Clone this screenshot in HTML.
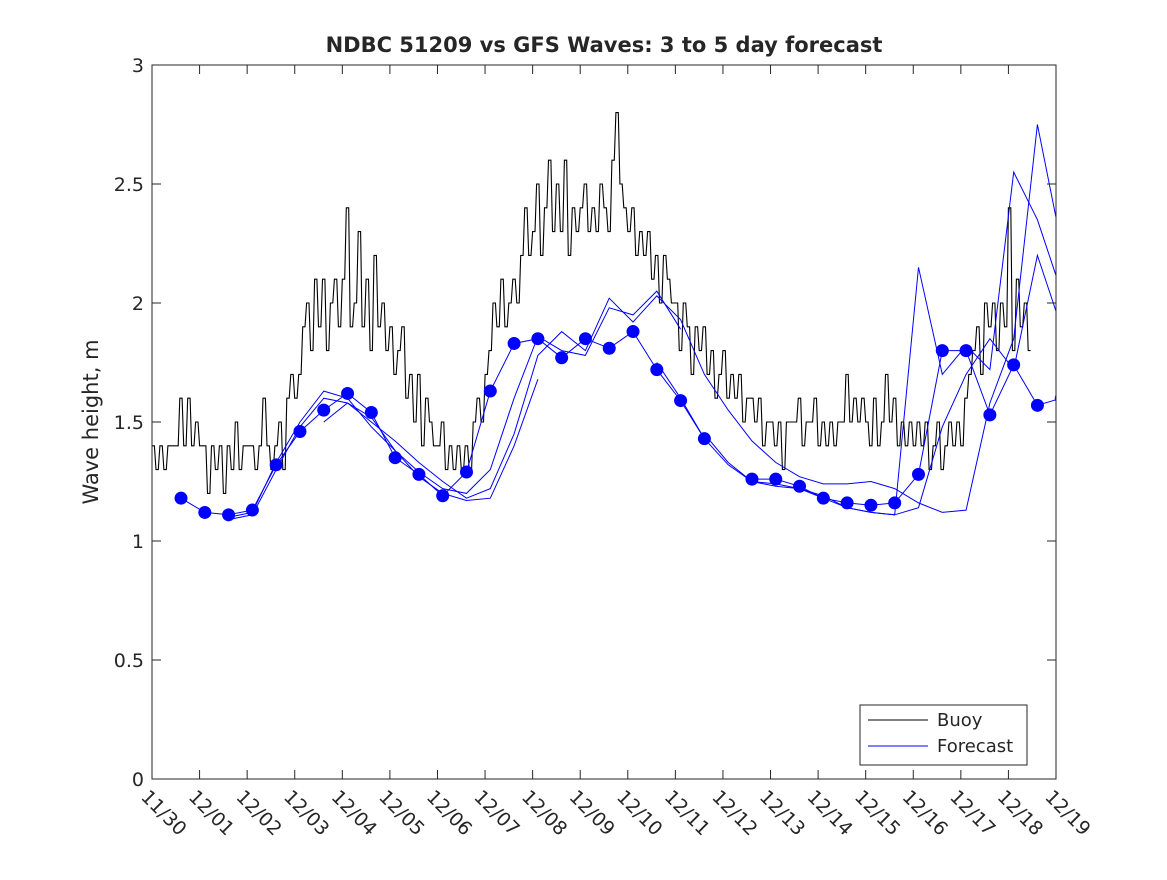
<!DOCTYPE html>
<html><head><meta charset="utf-8"><style>
body{margin:0;background:#fff}
svg text{font-family:"DejaVu Sans","Liberation Sans",sans-serif;fill:#262626}
</style></head><body>
<svg id="chart" width="1167" height="875" viewBox="0 0 1167 875">
<rect width="1167" height="875" fill="#fff"/>
<text x="604" y="52" text-anchor="middle" font-size="21" font-weight="bold" fill="#000">NDBC 51209 vs GFS Waves: 3 to 5 day forecast</text>
<text transform="translate(98,422) rotate(-90)" text-anchor="middle" font-size="21">Wave height, m</text>
<g id="marks"></g>
<rect x="152" y="65" width="904" height="714" fill="none" stroke="#262626" stroke-width="1"/>
<g id="axes"></g>
<g>
<rect x="860" y="705" width="167" height="60" fill="#fff" stroke="#262626"/>
<line x1="868" y1="720" x2="928" y2="720" stroke="#000"/>
<text x="937" y="726" font-size="18">Buoy</text>
<line x1="868" y1="746" x2="928" y2="746" stroke="#00f"/>
<text x="937" y="752" font-size="18">Forecast</text>
</g>
</svg>
<script>
const xTickLabels=["11/30","12/01","12/02","12/03","12/04","12/05","12/06","12/07","12/08","12/09","12/10","12/11","12/12","12/13","12/14","12/15","12/16","12/17","12/18","12/19"];
const yTicks=[0,0.5,1,1.5,2,2.5,3];
const yTickLabels=["0","0.5","1","1.5","2","2.5","3"];
const buoyStep=1/12;
const buoy=[
1.4,1.3,1.4,1.3,1.4,1.4,1.4,1.6,1.4,1.6,1.4,1.5,
1.4,1.4,1.2,1.4,1.3,1.4,1.2,1.4,1.3,1.5,1.3,1.4,
1.4,1.4,1.3,1.4,1.6,1.4,1.3,1.4,1.5,1.3,1.6,1.7,
1.6,1.7,1.9,2.0,1.8,2.1,1.9,2.1,1.8,2.0,2.1,1.9,
2.1,2.4,1.9,2.0,2.3,1.9,2.1,1.8,2.2,1.9,2.0,1.8,
1.9,1.7,1.8,1.9,1.6,1.7,1.5,1.7,1.4,1.6,1.5,1.4,
1.4,1.5,1.3,1.4,1.3,1.4,1.3,1.4,1.3,1.5,1.6,1.5,
1.7,1.8,2.0,1.9,2.1,1.9,2.0,2.1,2.0,2.2,2.4,2.2,
2.3,2.5,2.2,2.4,2.6,2.3,2.5,2.3,2.6,2.2,2.4,2.3,
2.4,2.5,2.3,2.4,2.3,2.5,2.4,2.3,2.6,2.8,2.5,2.4,
2.3,2.4,2.2,2.3,2.2,2.3,2.1,2.2,2.0,2.2,2.1,2.0,
2.0,1.8,2.0,1.9,1.7,1.9,1.8,1.9,1.7,1.8,1.6,1.7,
1.8,1.6,1.7,1.6,1.7,1.5,1.6,1.6,1.5,1.6,1.4,1.5,
1.5,1.4,1.5,1.3,1.5,1.5,1.5,1.6,1.4,1.5,1.5,1.6,
1.4,1.5,1.4,1.5,1.4,1.5,1.5,1.7,1.5,1.6,1.5,1.6,
1.5,1.4,1.6,1.4,1.5,1.7,1.5,1.6,1.4,1.5,1.4,1.5,
1.4,1.5,1.4,1.5,1.3,1.4,1.5,1.3,1.4,1.5,1.4,1.5,
1.4,1.6,1.7,1.8,1.9,1.7,2.0,1.9,2.0,1.8,2.0,1.9,
2.4,1.8,2.1,1.9,2.0,1.8];
const fcStart=0.61, fcStep=0.5;
const dots=[1.18,1.12,1.11,1.13,1.32,1.46,1.55,1.62,1.54,1.35,1.28,1.19,1.29,1.63,1.83,1.85,1.77,1.85,1.81,1.88,1.72,1.59,1.43,null,1.26,1.26,1.23,1.18,1.16,1.15,1.16,1.28,1.80,1.80,1.53,1.74,1.57,1.60];
const curveBStart=2;
const curveB=[1.10,1.12,1.33,1.50,1.63,1.60,1.48,1.38,1.29,1.22,1.20,1.30,1.60,1.86,1.80,1.78,1.98,1.95,2.05,1.89];
const curveCStart=2;
const curveC=[1.09,1.11,1.30,1.48,1.60,1.58,1.50,1.42,1.33,1.25,1.18,1.22,1.45,1.78,1.88,1.80,2.02,1.92,2.03,1.93,1.70,1.55,1.42,1.33,1.27,1.24,1.24,1.25,1.22,1.16,1.12,1.13,1.58,1.85,2.75,2.25];
const curveDStart=20;
const curveD=[1.75,1.60,1.43,1.32,1.25,1.24,1.22,1.19,1.14,1.12,1.11,2.15,1.70,1.82,1.72,2.55,2.35,2.05];
const curveEStart=6;
const curveE=[1.50,1.58,1.52,1.38,1.27,1.20,1.17,1.18,1.40,1.68];
const curveFStart=22;
const curveF=[1.45,1.33,1.25,1.23,1.22,1.18,1.14,1.12,1.11,1.14,1.48,1.70,1.85,1.72,2.20,1.90];

const X0=152,X1=1056,Y0=779,Y1=65,NDAYS=19,YMAX=3;
const xs=d=>X0+(X1-X0)*d/NDAYS;
const ys=v=>Y0-(Y0-Y1)*v/YMAX;
const NS="http://www.w3.org/2000/svg";
const marks=document.getElementById('marks'), axes=document.getElementById('axes');
function mk(tag,attrs,parent){const e=document.createElementNS(NS,tag);for(const k in attrs)e.setAttribute(k,attrs[k]);parent.appendChild(e);return e;}
const clip=mk('clipPath',{id:'pc'},marks);mk('rect',{x:X0,y:Y1,width:X1-X0,height:Y0-Y1},clip);
const g=mk('g',{'clip-path':'url(#pc)'},marks);

let bpts=[];
buoy.forEach((v,i)=>{const y=ys(v).toFixed(1);bpts.push(xs(i*buoyStep).toFixed(1)+','+y);bpts.push(xs((i+0.6)*buoyStep).toFixed(1)+','+y);});
const bl=mk('polyline',{points:bpts.join(' '),fill:'none',stroke:'#000','stroke-width':1.1},g);



function curve(start,vals,name){
  const pts=[];vals.forEach((v,i)=>{if(v!=null)pts.push(xs(fcStart+(start+i)*fcStep).toFixed(1)+','+ys(v).toFixed(1));});
  const p=mk('polyline',{points:pts.join(' '),fill:'none',stroke:'#00f','stroke-width':1},g);
  
  
}
curve(curveBStart,curveB,'forecast-line-b');
curve(curveCStart,curveC,'forecast-line-c');
curve(curveDStart,curveD,'forecast-line-d');
curve(curveEStart,curveE,'forecast-line-e');
curve(curveFStart,curveF,'forecast-line-f');
let seg=[];
dots.forEach((v,i)=>{if(v==null){if(seg.length>1)draw(seg);seg=[];}else seg.push(xs(fcStart+i*fcStep).toFixed(1)+','+ys(v).toFixed(1));});
if(seg.length>1)draw(seg);
function draw(s){const p=mk('polyline',{points:s.join(' '),fill:'none',stroke:'#00f','stroke-width':1},g);

}
dots.forEach((v,i)=>{if(v==null)return;
  const c=mk('circle',{cx:xs(fcStart+i*fcStep),cy:ys(v),r:6.5,fill:'#00f'},g);
  
  });

xTickLabels.forEach((t,i)=>{const x=xs(i);
  const l=mk('line',{x1:x,y1:Y0,x2:x,y2:Y0-9,stroke:'#262626'},axes);
  
  
  const l2=mk('line',{x1:x,y1:Y1,x2:x,y2:Y1+9,stroke:'#262626'},axes);
  
  
  const tx=mk('text',{x:0,y:0,'font-size':19,transform:`translate(${x-12},${Y0+19}) rotate(45)`},axes);
  tx.textContent=t;
  
  });
yTicks.forEach((v,i)=>{const y=ys(v);
  const l=mk('line',{x1:X0,y1:y,x2:X0+9,y2:y,stroke:'#262626'},axes);
  
  
  const l2=mk('line',{x1:X1,y1:y,x2:X1-9,y2:y,stroke:'#262626'},axes);
  
  
  const tx=mk('text',{x:X0-8,y:y+7,'font-size':19,'text-anchor':'end'},axes);
  tx.textContent=yTickLabels[i];
  
  });
</script>
</body></html>
